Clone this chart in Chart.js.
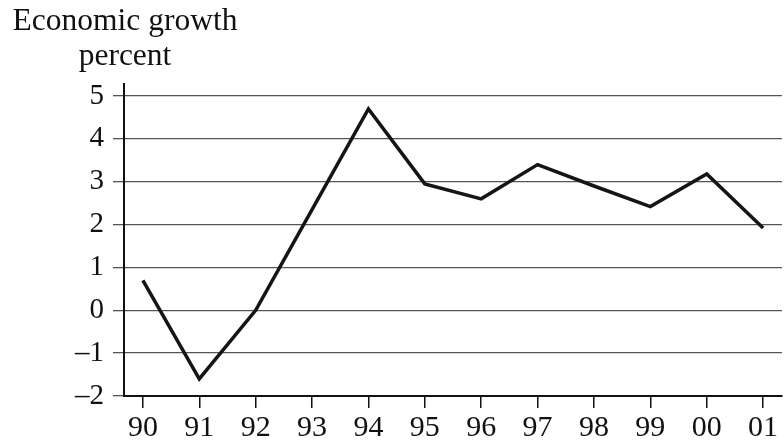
<!DOCTYPE html>
<html>
<head>
<meta charset="utf-8">
<script src="https://cdn.jsdelivr.net/npm/chart.js@4"></script>
<style>
html,body{margin:0;padding:0;background:#fff;}
#wrap{width:784px;height:441px;position:relative;}
</style>
</head>
<body>
<div id="wrap"><canvas id="growthChart" width="784" height="441"></canvas></div>
<script>
const years=['90','91','92','93','94','95','96','97','98','99','00','01'];
const growth=[0.7,-1.6,0.0,2.35,4.7,2.95,2.6,3.4,2.9,2.42,3.18,1.92];
const yTicks=[-2,-1,0,1,2,3,4,5];
const titleLines=['Economic growth','percent'];

const serif='"Liberation Serif","Times New Roman",serif';
const onlyWhole=scale=>{scale.ticks=scale.ticks.filter(t=>Number.isInteger(t.value));};

const titlePlugin={
  id:'twoLineTitle',
  afterDraw(chart){
    const ctx=chart.ctx;
    ctx.save();
    ctx.fillStyle='#111';
    ctx.font='31.5px '+serif;
    ctx.textAlign='center';
    ctx.textBaseline='alphabetic';
    ctx.fillText(titleLines[0],125,30);
    ctx.fillText(titleLines[1],125,65);
    ctx.restore();
  }
};

new Chart(document.getElementById('growthChart'),{
  type:'line',
  data:{datasets:[{data:growth.map((v,i)=>({x:i,y:v})),borderColor:'#151515',borderWidth:3.5,pointRadius:0,tension:0,borderJoinStyle:'miter',fill:false}]},
  options:{
    responsive:false,animation:false,
    layout:{padding:{left:0,right:2,top:84,bottom:0}},
    plugins:{legend:{display:false},tooltip:{enabled:false}},
    scales:{
      x:{type:'linear',min:-0.335,max:11.335,
        afterBuildTicks:onlyWhole,
        afterFit:scale=>{scale.height=45;},
        border:{display:true,color:'#111',width:2},
        grid:{drawOnChartArea:false,drawTicks:true,tickLength:12,color:'#111',lineWidth:1.5},
        ticks:{stepSize:1,includeBounds:false,autoSkip:false,maxRotation:0,padding:2,color:'#111',font:{family:serif,size:30},callback:v=>years[v]??''}},
      y:{type:'linear',min:-2,max:5.28,
        afterBuildTicks:scale=>{scale.ticks=yTicks.map(v=>({value:v}));},
        afterFit:scale=>{scale.width=124;},
        border:{display:true,color:'#111',width:2},
        grid:{drawTicks:true,tickLength:11,color:'#555',lineWidth:1.3},
        ticks:{stepSize:1,includeBounds:false,padding:9,color:'#111',font:{family:serif,size:29},callback:v=>v<0?'\u2013'+Math.abs(v):String(v)}}
    }
  },
  plugins:[titlePlugin]
});
</script>
</body>
</html>
